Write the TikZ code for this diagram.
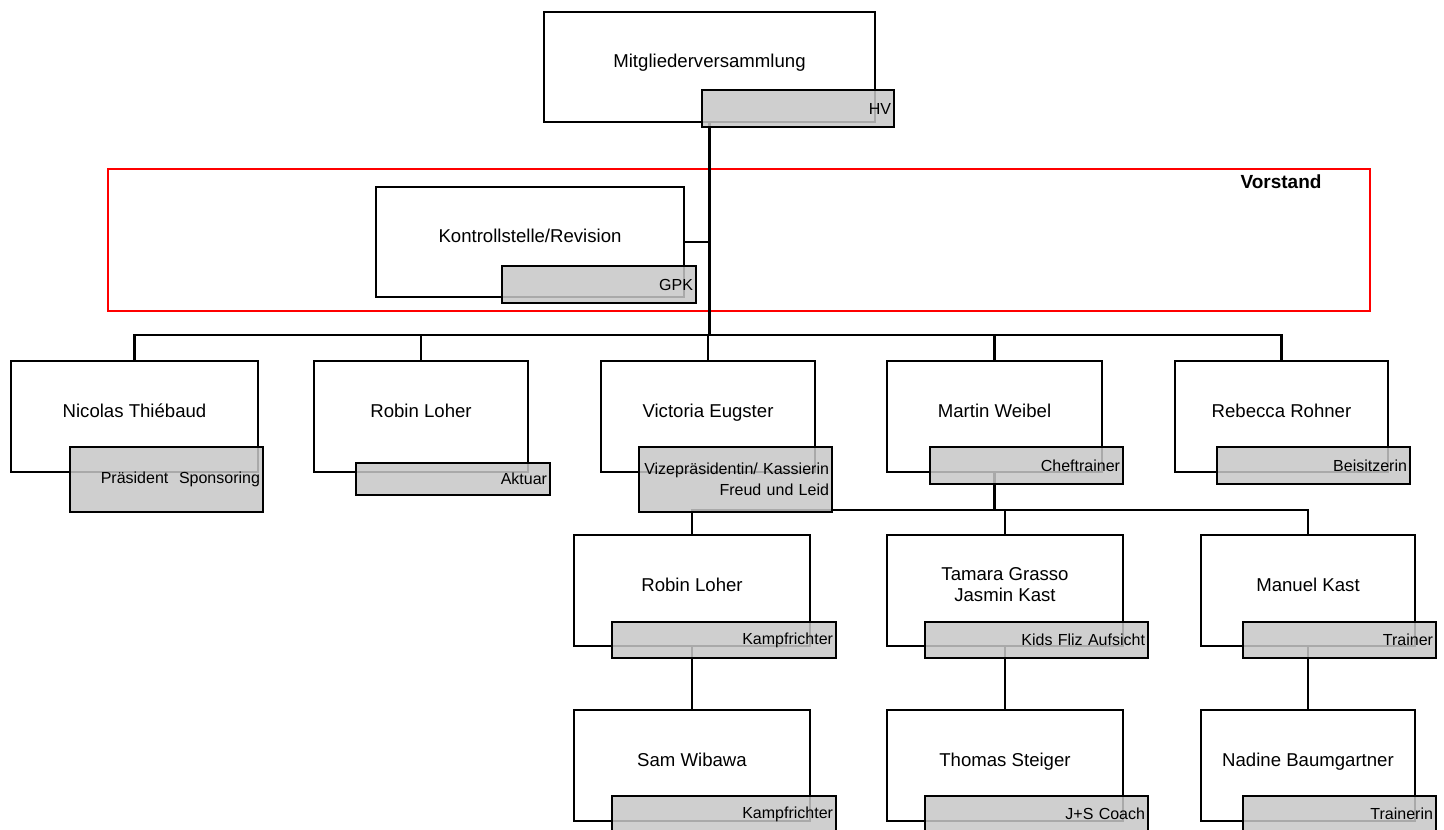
\documentclass[tikz,border=0pt]{standalone}
\usepackage{fontspec}
\setmainfont{Liberation Sans}

\begin{document}
\begin{tikzpicture}[x=1pt,y=-1pt,
  namebox/.style={draw=black, fill=white, line width=2.2pt, inner sep=2pt, align=center, text depth=12pt, font=\fontsize{18.6}{21}\selectfont},
  tagbox/.style={draw=black, fill=black!22, fill opacity=0.85, text opacity=1, line width=2.2pt, inner xsep=3pt, inner ysep=1pt, align=right, font=\fontsize{16}{21}\selectfont},
  link/.style={line width=2.2pt},
  trunk/.style={line width=3pt}]
\useasboundingbox (0,0) rectangle (1444,830);
\draw[red, line width=2.2pt] (108,169) rectangle (1370,311);
\node[namebox, minimum width=331, minimum height=110] (mv) at (709.5,67) {Mitgliederversammlung};
\node[namebox, minimum width=308, minimum height=110] (ks) at (530,242) {Kontrollstelle/Revision};
\node[namebox, minimum width=247, minimum height=111] (thiebaud) at (134.5,416.5) {Nicolas Thiébaud};
\node[namebox, minimum width=214, minimum height=111] (loher) at (421,416.5) {Robin Loher};
\node[namebox, minimum width=214, minimum height=111] (eugster) at (708,416.5) {Victoria Eugster};
\node[namebox, minimum width=215, minimum height=111] (weibel) at (994.5,416.5) {Martin Weibel};
\node[namebox, minimum width=213, minimum height=111] (rohner) at (1281.5,416.5) {Rebecca Rohner};
\node[namebox, minimum width=236, minimum height=111] (loherk) at (692,590.5) {Robin Loher};
\node[namebox, minimum width=236, minimum height=111] (grasso) at (1005,590.5) {Tamara Grasso\\Jasmin Kast};
\node[namebox, minimum width=214, minimum height=111] (kast) at (1308,590.5) {Manuel Kast};
\node[namebox, minimum width=236, minimum height=111] (wibawa) at (692,765.5) {Sam Wibawa};
\node[namebox, minimum width=236, minimum height=111] (steiger) at (1005,765.5) {Thomas Steiger};
\node[namebox, minimum width=214, minimum height=111] (baumgartner) at (1308,765.5) {Nadine Baumgartner};

\coordinate (bus) at (709.5,335);
\coordinate (bus2) at (994.5,510);
\draw[trunk] (mv.south) -- (bus);
\draw[link] (ks.east) -- (ks.east -| bus);
\draw[link] (thiebaud.north) |- (bus) -| (rohner.north);
\foreach \n in {loher,eugster,weibel}
  \draw[link] (\n.north) -- (\n.north |- bus);
\draw[link] (weibel.south) -- (bus2);
\draw[link] (loherk.north) |- (bus2) -| (kast.north);
\draw[link] (grasso.north) -- (grasso.north |- bus2);
\draw[link] (loherk.south) -- (wibawa.north);
\draw[link] (grasso.south) -- (steiger.north);
\draw[link] (kast.south) -- (baumgartner.north);

\node[tagbox, minimum width=192, minimum height=37, text width=186] (mvtag) at (798,108.5) {HV};
\node[tagbox, minimum width=194, minimum height=37, text width=188] (kstag) at (599,284.5) {GPK};
\node[tagbox, minimum width=193, minimum height=65, text width=187] (thiebaudtag) at (166.5,479.5) {Präsident\ \ Sponsoring};
\node[tagbox, minimum width=194, minimum height=32, text width=188] (lohertag) at (453,479) {Aktuar};
\node[tagbox, minimum width=193, minimum height=65, text width=187] (eugstertag) at (735.5,479.5) {Vizepräsidentin/ Kassierin\\Freud und Leid};
\node[tagbox, minimum width=193, minimum height=37, text width=187] (weibeltag) at (1026.5,465.5) {Cheftrainer};
\node[tagbox, minimum width=193, minimum height=37, text width=187] (rohnertag) at (1313.5,465.5) {Beisitzerin};
\node[tagbox, minimum width=224, minimum height=36, text width=218] (loherktag) at (724,640) {Kampfrichter};
\node[tagbox, minimum width=223, minimum height=36, text width=217] (grassotag) at (1036.5,640) {Kids Fliz Aufsicht};
\node[tagbox, minimum width=193, minimum height=36, text width=187] (kasttag) at (1339.5,640) {Trainer};
\node[tagbox, minimum width=224, minimum height=36, text width=218] (wibawatag) at (724,814) {Kampfrichter};
\node[tagbox, minimum width=223, minimum height=36, text width=217] (steigertag) at (1036.5,814) {J+S Coach};
\node[tagbox, minimum width=193, minimum height=36, text width=187] (baumgartnertag) at (1339.5,814) {Trainerin};

\node[font=\fontsize{19}{21}\selectfont\bfseries] (vorstand) at (1281,182) {Vorstand};
\end{tikzpicture}
\end{document}
